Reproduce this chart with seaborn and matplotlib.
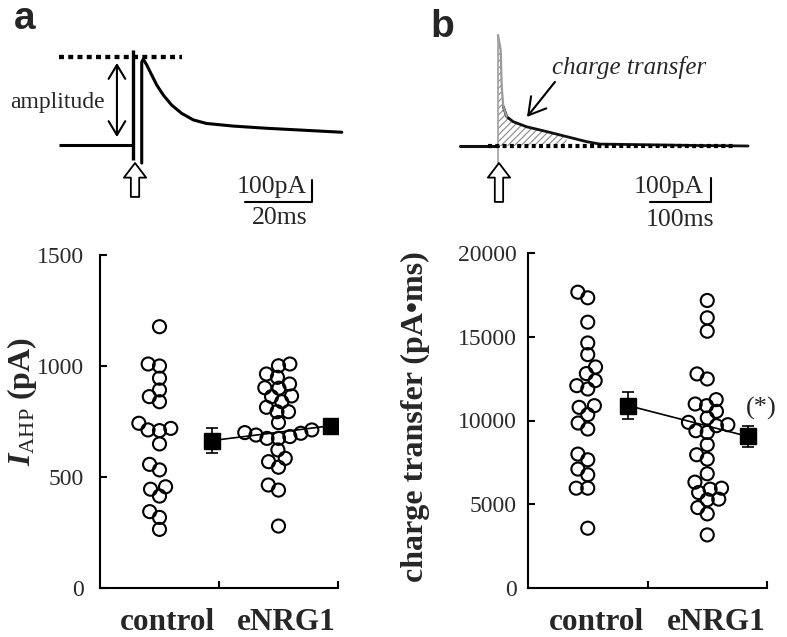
import numpy as np
import pandas as pd
import matplotlib
matplotlib.use("Agg")
import matplotlib.pyplot as plt
import seaborn as sns

# ---------------- data ----------------
groups = ["control", "eNRG1"]

ahp_control = [1177, 1009, 1000, 945, 892, 862, 839, 742, 719, 712, 709, 649,
               557, 532, 456, 445, 414, 344, 318, 264]
ahp_enrg1 = [1009, 1001, 964, 949, 919, 902, 900, 865, 862, 839, 814, 794, 794,
             745, 712, 700, 697, 689, 682, 674, 674, 622, 584, 569, 544, 464, 441, 279]
ahp_mean = [664, 731]
ahp_sem = [56, 25]

charge_control = [17660, 17325, 15870, 14630, 13935, 13195, 12800, 12380, 12080,
                  11880, 10885, 10785, 10350, 9850, 9490, 7995, 7655, 7100, 6760,
                  5960, 5960, 3570]
charge_enrg1 = [17165, 16130, 15330, 12780, 12480, 11245, 10985, 10885, 10545,
                10150, 9890, 9750, 9690, 9390, 9290, 8555, 7955, 7695, 6820, 6320,
                5960, 5900, 5700, 5305, 5265, 4800, 4425, 3170]
charge_mean = [10885, 9050]
charge_sem = [800, 650]

ahp_yticks = [0, 500, 1000, 1500]
charge_yticks = [0, 5000, 10000, 15000, 20000]

# example trace a (time in ms, current in pA)
amp_base_t = [-22, 0]
amp_base_i = [0, 0]
amp_artifact_t = [0, 0]
amp_artifact_i = [432, -68]
amp_trace_t = [2.6, 2.6, 3.07, 4.09, 5.58, 7.07, 9.04, 11.5, 14.5, 18.0, 21.9,
               29.9, 39.9, 49.9, 62.3]
amp_trace_i = [-82, 377, 390, 364, 318, 273, 227, 182, 144, 114, 98, 86, 76, 68, 58]
amp_peak_level = 400

# example trace b (time in ms, current in pA)
chg_base_t = [-62, 0]
chg_base_i = [0, 0]
chg_artifact_t = [0, 0]
chg_artifact_i = [462, -71]
chg_spike_t = [0, 4.4, 6.1, 8.7, 14.3]
chg_spike_i = [462, 400, 247, 164, 122]
chg_trace_t = [8.7, 14.3, 25.1, 47.0, 79.8, 112.6, 145.4, 167, 221, 277, 330, 410]
chg_trace_i = [164, 122, 101, 80, 60, 39, 18, 8, 6, 4, 2, 0]
chg_hatch_end = 125

# ---------------- style ----------------
sns.set_style("ticks")
plt.rcParams["font.family"] = ["Liberation Serif", "DejaVu Serif"]
plt.rcParams["mathtext.fontset"] = "custom"
plt.rcParams["mathtext.rm"] = "Liberation Serif"
plt.rcParams["mathtext.it"] = "Liberation Serif:italic:bold"
plt.rcParams["mathtext.bf"] = "Liberation Serif:bold"
plt.rcParams["hatch.linewidth"] = 0.8

W, H = 787, 637
fig = plt.figure(figsize=(W / 100, H / 100), dpi=100)

LAYOUT_SIZE = 6.4   # marker size used to arrange the swarm (lets circles overlap)
SHOW_SIZE = 9.4     # marker size actually shown
swarm_colls = []


def px_axes(x0, y0, x1, y1):
    return fig.add_axes([x0 / W, 1 - y1 / H, (x1 - x0) / W, (y1 - y0) / H])


def scatter_panel(ax, ctrl, enrg, mean, sem, mean_off, ylim, yticks, pad, lab_off):
    df = pd.DataFrame({"group": [groups[0]] * len(ctrl) + [groups[1]] * len(enrg),
                       "value": list(ctrl) + list(enrg)})
    n0 = len(ax.collections)
    sns.swarmplot(data=df, x="group", y="value", order=groups, ax=ax,
                  size=LAYOUT_SIZE, color="black", edgecolor="black",
                  linewidth=1.5, zorder=3)
    for coll in ax.collections[n0:]:
        coll.set_facecolor("none")
        coll.set_edgecolor("black")
        swarm_colls.append(coll)
    xm = np.arange(len(groups)) + mean_off
    ax.errorbar(xm, mean, yerr=sem, fmt="s-", color="black", ms=11, lw=1.2,
                elinewidth=1.2, capsize=4.5, capthick=1.2, zorder=4)
    ax.set_xlim(-0.5, 1.5)
    ax.set_ylim(*ylim)
    ax.set_yticks(yticks)
    ax.set_xticks([0.5, 1.5])
    ax.set_xticklabels([])
    ax.set_xlabel("")
    ax.set_ylabel("")
    sns.despine(ax=ax)
    for s in ["left", "bottom"]:
        ax.spines[s].set_linewidth(1.5)
        ax.spines[s].set_color("black")
    ax.tick_params(axis="both", direction="in", length=5, width=1.5, color="black")
    ax.tick_params(axis="y", labelsize=17, labelcolor="#2a2a2a", pad=pad)
    for i, g in enumerate(groups):
        ax.annotate(g, xy=(i, 0), xycoords=("data", "axes fraction"),
                    xytext=(lab_off, -42), textcoords="offset pixels",
                    ha="center", va="baseline", fontsize=22.5, fontweight="bold")


# ---------------- bottom panels ----------------
axL = px_axes(100, 255, 338, 588)
scatter_panel(axL, ahp_control, ahp_enrg1, ahp_mean, ahp_sem, 0.44,
              (0, 1500), ahp_yticks, 11.5, 8)

axR = px_axes(528, 253, 767, 588)
scatter_panel(axR, charge_control, charge_enrg1, charge_mean, charge_sem, 0.34,
              (0, 20000), charge_yticks, 8, 9)
axR.text(1.45, 10700, "(*)", fontsize=19, ha="center", va="center", clip_on=False)

fig.text(22 / W, 1 - 401 / H, r"$I_{\rm AHP}$ (pA)", rotation=90, ha="center",
         va="center", fontsize=23, fontweight="bold")
fig.text(415 / W, 1 - 417 / H, "charge transfer (pA\u2022ms)", rotation=90,
         ha="center", va="center", fontsize=23, fontweight="bold")

# ---------------- top traces ----------------
axA = px_axes(0, 0, 390, 240)
axA.set_xlim(-39.7, 76.7)
axA.set_ylim(-431.8, 659.1)
axA.axis("off")
axA.plot(amp_base_t, amp_base_i, color="black", lw=2.2, solid_capstyle="butt")
axA.plot(amp_artifact_t, amp_artifact_i, color="black", lw=2.4, solid_capstyle="butt")
axA.plot(amp_trace_t, amp_trace_i, color="black", lw=2.2)
axA.plot([-22, 14.6], [amp_peak_level, amp_peak_level], color="black", lw=3.1,
         linestyle=(0, (1.15, 1.0)))
axA.annotate("", xy=(-4.8, 373), xytext=(-4.8, 36),
             arrowprops=dict(arrowstyle="<->,head_length=0.5,head_width=0.3",
                             mutation_scale=20, lw=1.5, color="black",
                             shrinkA=0, shrinkB=0))
axA.text(-22.7, 191, "amplitude", fontsize=17, ha="center", va="center")
axA.annotate("", xy=(0.6, -82), xytext=(0.6, -236),
             arrowprops=dict(arrowstyle="simple,head_length=1.05,head_width=1.6,tail_width=0.6",
                             mutation_scale=10, fc="white", ec="black", lw=1.3,
                             shrinkA=0, shrinkB=0))
axA.plot([33.4, 53.4, 53.4], [-259, -259, -159], color="black", lw=1.5)
axA.text(52, -218, "100pA", fontsize=18.5, ha="right", va="baseline")
axA.text(43.9, -332, "20ms", fontsize=18.5, ha="center", va="center")

axB = px_axes(395, 0, 787, 240)
axB.set_xlim(-168.85, 473.8)
axB.set_ylim(-391.7, 608.3)
axB.axis("off")
full_t = np.array(chg_spike_t + chg_trace_t[2:], dtype=float)
full_i = np.array(chg_spike_i + chg_trace_i[2:], dtype=float)
axB.fill_between(full_t, full_i, 0, where=full_t <= chg_hatch_end, facecolor="none",
                 edgecolor="#8a8a8a", hatch="/////", linewidth=0)
axB.plot(chg_base_t, chg_base_i, color="#111111", lw=2.2)
axB.plot(chg_trace_t, chg_trace_i, color="#111111", lw=2.0)
axB.plot(chg_spike_t, chg_spike_i, color="#9a9a9a", lw=1.6)
axB.plot(chg_artifact_t, chg_artifact_i, color="#a0a0a0", lw=1.2)
axB.plot([-16.4, 385], [0, 0], color="black", lw=3.0, linestyle=(0, (0.95, 0.8)))
axB.text(215, 325, "charge transfer", fontsize=18, style="italic", ha="center",
         va="center")
axB.annotate("", xy=(47.5, 121), xytext=(93.4, 267),
             arrowprops=dict(arrowstyle="->,head_length=0.6,head_width=0.35",
                             mutation_scale=20, lw=1.5, color="black",
                             shrinkA=0, shrinkB=0))
axB.annotate("", xy=(1.6, -71), xytext=(1.6, -233),
             arrowprops=dict(arrowstyle="simple,head_length=1.05,head_width=1.6,tail_width=0.6",
                             mutation_scale=10, fc="white", ec="black", lw=1.3,
                             shrinkA=0, shrinkB=0))
axB.plot([249, 349, 349], [-233, -233, -133], color="black", lw=1.5)
axB.text(338, -196, "100pA", fontsize=18.5, ha="right", va="baseline")
axB.text(298, -308, "100ms", fontsize=18.5, ha="center", va="center")

# panel letters
fig.text(14 / W, 1 - 29 / H, "a", fontsize=28, fontweight="bold",
         family="Liberation Sans", ha="left", va="baseline")
fig.text(430 / W, 1 - 37 / H, "b", fontsize=28, fontweight="bold",
         family="Liberation Sans", ha="left", va="baseline")

# arrange swarms with the layout size, then freeze positions and enlarge markers
fig.canvas.draw()
for coll in swarm_colls:
    try:
        del coll.draw
    except AttributeError:
        pass
    coll.set_sizes([SHOW_SIZE ** 2])

fig.savefig("out.png", dpi=100)
